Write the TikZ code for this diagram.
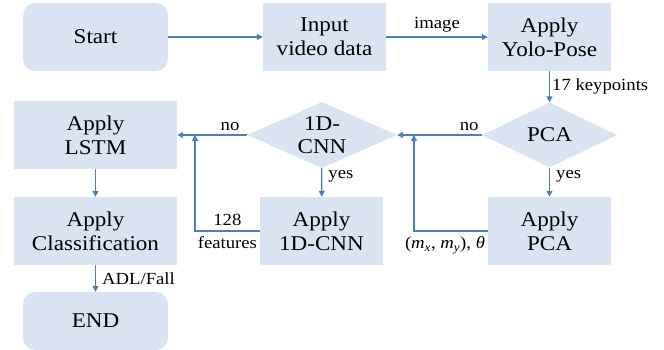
\documentclass[tikz,border=0pt]{standalone}
\usepackage{fontspec}
\setmainfont[FakeStretch=1.1]{Liberation Serif}
\usetikzlibrary{shapes.geometric,arrows.meta}
\definecolor{boxfill}{HTML}{DAE3F1}
\definecolor{arrowblue}{HTML}{4A7EBF}
\begin{document}
\begin{tikzpicture}[x=1pt,y=-1pt,
  box/.style={fill=boxfill, draw=none, minimum width=123pt, minimum height=68pt, inner sep=0pt, align=center, font=\fontsize{21}{24}\selectfont},
  rbox/.style={box, rounded corners=12pt},
  dia/.style={diamond, fill=boxfill, draw=none, inner sep=0pt},
  dtxt/.style={align=center, inner sep=0pt, font=\fontsize{21}{23}\selectfont},
  lbl/.style={font=\fontsize{17}{19}\selectfont, inner sep=0pt},
  arr/.style={draw=arrowblue, line width=1.3pt, -{Triangle[width=6pt,length=6pt]}}]
\useasboundingbox (0,0) rectangle (664,350);
% nodes
\node[rbox, minimum width=145pt] (start) at (95.5,37) {Start};
\node[box] (input) at (324.5,37) {Input\\video data};
\node[box] (yolo) at (549.5,37) {Apply\\Yolo-Pose};
\node[box, minimum width=163pt] (lstm) at (95.5,135) {Apply\\LSTM};
\node[box, minimum width=163pt] (cls) at (95.5,231) {Apply\\Classification};
\node[rbox, minimum width=145pt, minimum height=58pt] (endn) at (95.5,321) {END};
\node[dia, minimum width=150pt, minimum height=66pt] (cnnq) at (322,135) {};
\node[dtxt] at (cnnq.center) {1D-\\CNN};
\node[dia, minimum width=135pt, minimum height=65pt] (pcaq) at (549.5,135) {};
\node[dtxt] at (pcaq.center) {PCA};
\node[box] (acnn) at (321.5,231) {Apply\\1D-CNN};
\node[box] (apca) at (549.5,231) {Apply\\PCA};
\coordinate (j1) at (414,135);
\coordinate (j2) at (195,135);
% connectors
\draw[arr] (start) -- (input);
\draw[arr] (input) -- node[lbl, above=4pt]{image} (yolo);
\draw[arr] (yolo) -- node[lbl, right=2pt]{17 keypoints} (pcaq);
\draw[arr] (pcaq) -- node[lbl, pos=0.15, above=4pt]{no} (cnnq);
\draw[arr] (cnnq) -- node[lbl, pos=0.24, above=4pt]{no} (lstm);
\draw[arr] (pcaq) -- node[lbl, pos=0.3, right=6pt]{yes} (apca);
\draw[arr] (cnnq) -- node[lbl, pos=0.3, right=6pt]{yes} (acnn);
\draw[arr] (apca.west) -| node[lbl, pos=0.29, below=5pt]{(\textit{m}\textsubscript{\textit{x}}, \textit{m}\textsubscript{\textit{y}}), \textit{θ}} (j1);
\draw[arr] (acnn.west) -| node[lbl, pos=0.25, above=5pt]{128} node[lbl, pos=0.25, below=5pt]{features} (j2);
\draw[arr] (lstm) -- (cls);
\draw[arr] (cls) -- node[lbl, right=6pt]{ADL/Fall} (endn);
\end{tikzpicture}
\end{document}
